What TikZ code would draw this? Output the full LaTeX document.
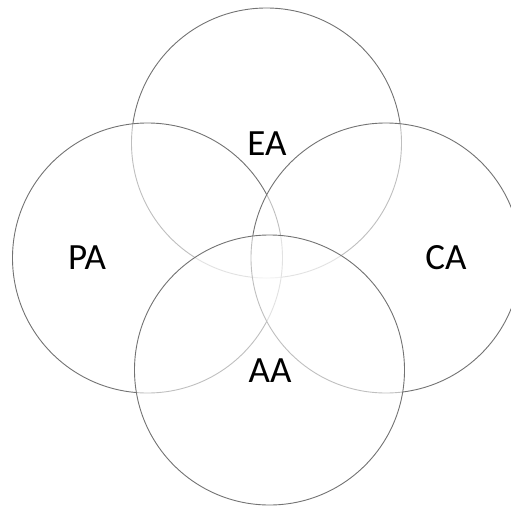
\documentclass[tikz,border=0pt]{standalone}
\usepackage{fontspec}
\setmainfont{Carlito}
\begin{document}
\begin{tikzpicture}[x=1pt,y=-1pt,
  ring/.style={circle,draw=black!55,line width=0.9pt,fill=white,fill opacity=0.55,minimum size=270pt,inner sep=0pt},
  lbl/.style={font=\fontsize{37}{40}\selectfont,text=black,inner sep=0pt}]
\useasboundingbox (0,0) rectangle (511,509);
\begin{scope}
\clip (0,0) rectangle (511,509);
\node[ring] (ea) at (266.5,143) {};
\node[ring] (pa) at (147.5,258) {};
\node[ring] (ca) at (386,258) {};
\node[ring] (aa) at (269.5,370) {};
\end{scope}
\node[lbl] (tea) at (267,144) {EA};
\node[lbl] (tpa) at (87,258) {PA};
\node[lbl] (tca) at (446,258) {CA};
\node[lbl] (taa) at (270,371) {AA};
\end{tikzpicture}
\end{document}
